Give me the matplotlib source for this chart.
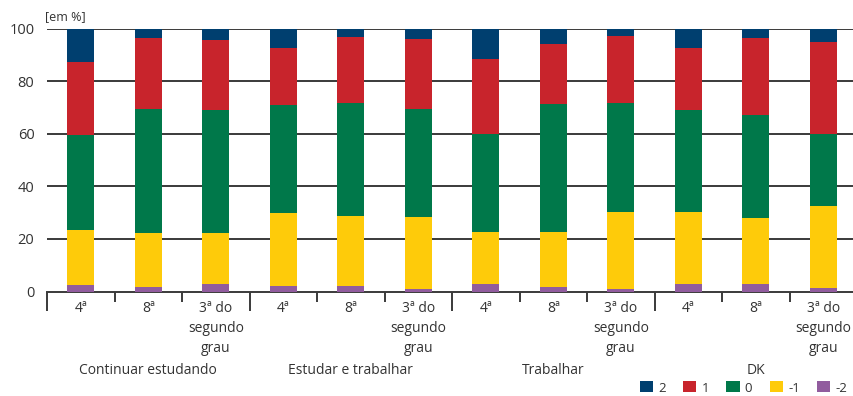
import matplotlib
matplotlib.use("Agg")
import matplotlib.pyplot as plt
from matplotlib.patches import Patch
import numpy as np

groups = ["Continuar estudando", "Estudar e trabalhar", "Trabalhar", "DK"]
grades = ["4ª", "8ª", "3ª do\nsegundo\ngrau"]
series_names = ["-2", "-1", "0", "1", "2"]

s_m2 = [2.5, 1.8, 2.9, 2.1, 2.1, 1.1, 2.9, 1.7, 0.9, 2.9, 2.9, 1.4]
s_m1 = [20.9, 20.4, 19.3, 27.9, 26.6, 27.2, 19.7, 20.9, 29.3, 27.3, 25.0, 31.1]
s_0 = [36.1, 47.2, 46.9, 40.9, 43.0, 41.1, 37.4, 48.8, 41.5, 38.9, 39.2, 27.5]
s_1 = [27.9, 27.0, 26.5, 21.7, 25.1, 26.6, 28.4, 22.8, 25.6, 23.6, 29.3, 34.9]
s_2 = [12.6, 3.6, 4.4, 7.4, 3.2, 4.0, 11.6, 5.8, 2.7, 7.3, 3.6, 5.1]

colors = {"-2": "#915C9E", "-1": "#FECB0A", "0": "#00784A", "1": "#C8242C", "2": "#003F6F"}
yticks = [0, 20, 40, 60, 80, 100]

plt.rcParams['font.family'] = ['Open Sans', 'DejaVu Sans']
txt = "#333333"

fig = plt.figure(figsize=(8.54, 3.96), dpi=100)
ax = fig.add_axes([47/854, 104.5/396, 810/854, 263/396])

data = [s_m2, s_m1, s_0, s_1, s_2]
n = len(s_m2)
x = np.arange(n)
bottom = np.zeros(n)
for name, vals in zip(series_names, data):
    ax.bar(x, vals, width=0.4, bottom=bottom, color=colors[name], zorder=3, linewidth=0)
    bottom += np.array(vals)

ax.set_xlim(-0.5, n - 0.5)
ax.set_ylim(0, 100)
for y in yticks[1:]:
    ax.axhline(y, color="#3a3a3a", linewidth=1.4, zorder=1)
ax.set_yticks(yticks)
ax.set_yticklabels([str(v) for v in yticks], fontsize=10.5, color=txt)
ax.tick_params(axis='y', length=0, pad=9)

for sp in ["top", "right", "left"]:
    ax.spines[sp].set_visible(False)
ax.spines["bottom"].set_color("#3a3a3a")
ax.spines["bottom"].set_linewidth(1.4)

bounds = np.arange(n + 1) - 0.5
major = [b for i, b in enumerate(bounds) if i % 3 == 0]
minor = [b for i, b in enumerate(bounds) if i % 3 != 0]
ax.set_xticks(major)
ax.set_xticklabels([])
ax.set_xticks(minor, minor=True)
ax.tick_params(axis='x', which='major', length=13.5, width=1.4, color="#3a3a3a")
ax.tick_params(axis='x', which='minor', length=7.5, width=1.4, color="#3a3a3a")

labels = grades * len(groups)
for i, lab in enumerate(labels):
    ax.annotate(lab, xy=(i, 0), xycoords=('data', 'axes fraction'),
                xytext=(0, -7), textcoords='offset points', ha='center', va='top',
                fontsize=10, color=txt, linespacing=1.45)
for g, name in enumerate(groups):
    ax.annotate(name, xy=(g * 3 + 1, 0), xycoords=('data', 'axes fraction'),
                xytext=(0, -51.5), textcoords='offset points', ha='center', va='top',
                fontsize=10, color=txt)

fig.text(45/854, 1 - 17/396, "[em %]", fontsize=9, color=txt, va='center', ha='left')

handles = [Patch(facecolor=colors[s], edgecolor='none') for s in ["2", "1", "0", "-1", "-2"]]
fig.legend(handles, ["2", "1", "0", "-1", "-2"], ncol=5, loc='center left',
           bbox_to_anchor=(640/854, 1 - 388/396), frameon=False, fontsize=9.5,
           handlelength=1.0, handleheight=0.9, handletextpad=0.4, columnspacing=1.3,
           labelcolor=txt, borderpad=0, borderaxespad=0)

fig.savefig("out.png", dpi=100)
